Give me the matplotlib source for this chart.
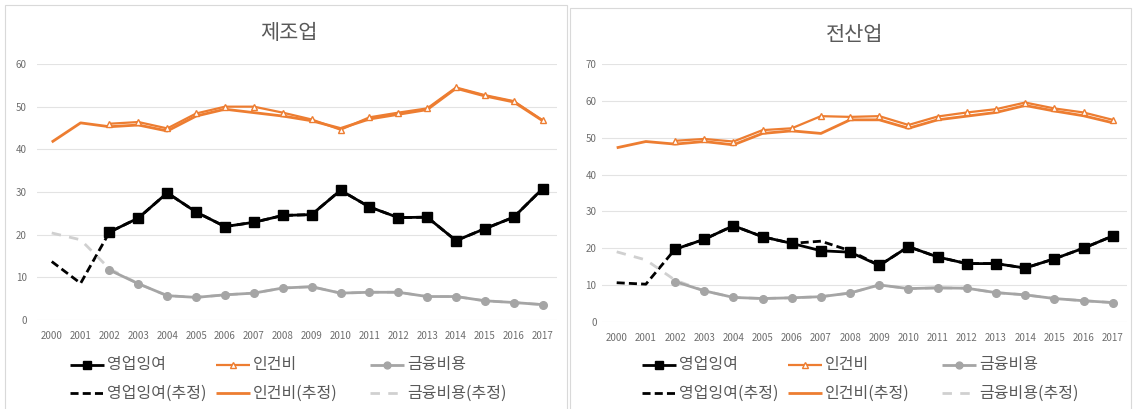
import numpy as np
import matplotlib
matplotlib.use("Agg")
import matplotlib.pyplot as plt
from matplotlib.lines import Line2D
from matplotlib.patches import Rectangle

plt.rcParams['font.family'] = ['Noto Sans CJK KR', 'DejaVu Sans']

nan = np.nan
years = [str(y) for y in range(2000, 2018)]

# 제조업
mfg_surplus = [nan, nan, 20.6, 23.9, 29.8, 25.3, 21.9, 22.9, 24.5, 24.7, 30.4, 26.5, 24.0, 24.1, 18.6, 21.4, 24.1, 30.8]
mfg_surplus_est = [13.7, 8.6, 20.6, 23.9, 29.8, 25.3, 21.9, 22.9, 24.5, 24.7, 30.4, 26.5, 24.0, 24.1, 18.6, 21.4, 24.1, 30.8]
mfg_labor = [nan, nan, 46.0, 46.4, 44.9, 48.4, 50.0, 50.0, 48.6, 47.0, 44.6, 47.5, 48.6, 49.6, 54.5, 52.7, 51.3, 46.8]
mfg_labor_est = [41.7, 46.2, 45.3, 45.7, 44.3, 47.8, 49.4, 48.6, 47.8, 46.7, 44.9, 47.1, 48.2, 49.3, 54.3, 52.5, 51.1, 46.7]
mfg_fin = [nan, nan, 11.7, 8.5, 5.7, 5.3, 5.9, 6.3, 7.5, 7.8, 6.3, 6.5, 6.5, 5.5, 5.5, 4.5, 4.1, 3.6]
mfg_fin_est = [20.4, 18.8, 12.0, 8.5, 5.7, 5.3, 5.9, 6.3, 7.5, 7.8, 6.3, 6.5, 6.5, 5.5, 5.5, 4.5, 4.1, 3.6]

# 전산업
all_surplus = [nan, nan, 19.7, 22.4, 26.1, 23.1, 21.3, 19.3, 18.9, 15.3, 20.4, 17.6, 15.8, 15.8, 14.6, 17.1, 20.0, 23.3]
all_surplus_est = [10.6, 10.2, 19.7, 22.4, 26.1, 23.1, 21.3, 21.9, 19.3, 15.3, 20.4, 17.6, 15.8, 15.8, 14.6, 17.1, 20.0, 23.3]
all_labor = [nan, nan, 49.2, 49.7, 49.0, 52.1, 52.6, 55.9, 55.7, 55.9, 53.5, 55.8, 56.9, 57.8, 59.6, 58.0, 56.9, 54.9]
all_labor_est = [47.3, 49.0, 48.3, 49.0, 48.1, 51.2, 51.9, 51.2, 54.9, 54.9, 52.6, 54.9, 55.9, 56.9, 58.8, 57.3, 56.0, 54.1]
all_fin = [nan, nan, 10.9, 8.4, 6.6, 6.3, 6.5, 6.8, 7.8, 10.0, 9.0, 9.2, 9.1, 7.9, 7.3, 6.3, 5.7, 5.2]
all_fin_est = [19.0, 16.8, 11.3, 8.4, 6.6, 6.3, 6.5, 6.8, 7.8, 10.0, 9.0, 9.2, 9.1, 7.9, 7.3, 6.3, 5.7, 5.2]

titles = ['제조업', '전산업']
legend_labels = ['영업잉여', '인건비', '금융비용', '영업잉여(추정)', '인건비(추정)', '금융비용(추정)']

W, H = 1133, 409
BLACK = '#000000'
ORANGE = '#ED7D31'
GRAY = '#A5A5A5'
LGRAY = '#D0D0D0'
TXT = '#595959'
TICK = '#6E6E6E'

fig = plt.figure(figsize=(W / 100, H / 100), dpi=100)


def fx(x):
    return x / W


def fy(y):
    return 1 - y / H


def styles():
    return [
        dict(color=BLACK, lw=2.0, ls=(0, (2.9, 1.5)), marker=None),            # 영업잉여(추정)
        dict(color=ORANGE, lw=2.0, ls='-', marker=None),                       # 인건비(추정)
        dict(color=LGRAY, lw=2.0, ls=(0, (3.4, 3.0)), marker=None),            # 금융비용(추정)
        dict(color=BLACK, lw=2.0, ls='-', marker='s', ms=6.5, mfc=BLACK, mec=BLACK),
        dict(color=ORANGE, lw=1.6, ls='-', marker='^', ms=5, mfc='white', mec=ORANGE, mew=1.0),
        dict(color=GRAY, lw=2.0, ls='-', marker='o', ms=5.5, mfc=GRAY, mec=GRAY),
    ]


def panel(box, frame, title_xy, title, series, ymax, ypad):
    l, t, r, b = box
    ax = fig.add_axes([fx(l), fy(b), fx(r) - fx(l), fy(t) - fy(b)])
    x = np.arange(len(years))
    st = styles()
    for vals, s in zip(series, st):
        ax.plot(x, vals, solid_capstyle='butt', dash_capstyle='butt', zorder=3, **s)
    ax.set_xlim(-0.5, len(years) - 0.5)
    ax.set_ylim(0, ymax)
    ax.set_yticks(np.arange(0, ymax + 1, 10))
    ax.set_xticks(x)
    ax.set_xticklabels(years)
    ax.grid(axis='y', color='#E3E3E3', lw=0.8, zorder=0)
    for sp in ax.spines.values():
        sp.set_visible(False)
    ax.tick_params(axis='y', length=0, pad=ypad, labelsize=7, labelcolor=TICK)
    ax.tick_params(axis='x', length=0, pad=8, labelsize=7, labelcolor=TICK)
    ax.set_facecolor('none')

    fl, ft, fr, fb = frame
    fig.patches.append(Rectangle((fx(fl), fy(fb)), fx(fr) - fx(fl), fy(ft) - fy(fb),
                                 transform=fig.transFigure, fill=False,
                                 edgecolor='#D9D9D9', lw=0.8))
    fig.text(fx(title_xy[0]), fy(title_xy[1]), title, ha='center', va='center',
             fontsize=15, color=TXT)
    return ax


def legend(cols, rows):
    st = styles()
    order = [3, 4, 5, 0, 1, 2]
    hl = 34
    for i, lab in enumerate(legend_labels):
        c = i % 3
        rr = i // 3
        s = dict(st[order[i]])
        x0 = cols[c]
        y = rows[rr]
        line = Line2D([fx(x0), fx(x0 + hl)], [fy(y), fy(y)], transform=fig.transFigure,
                      color=s['color'], lw=s['lw'], ls=s['ls'],
                      solid_capstyle='butt', dash_capstyle='butt')
        fig.add_artist(line)
        if s.get('marker'):
            mk = Line2D([fx(x0 + hl / 2)], [fy(y)], transform=fig.transFigure,
                        marker=s['marker'], ms=s['ms'] * 0.9, mfc=s['mfc'], mec=s['mec'],
                        mew=s.get('mew', 1.0), ls='none')
            fig.add_artist(mk)
        fig.text(fx(x0 + hl + 3), fy(y), lab, ha='left', va='center',
                 fontsize=11.5, color=TXT)


panel((37.3, 64, 557.1, 320), (5, 5, 567, 412), (289, 33), titles[0],
      [mfg_surplus_est, mfg_labor_est, mfg_fin_est, mfg_surplus, mfg_labor, mfg_fin], 60, 7.5)
panel((602.1, 64.3, 1127.3, 321.7), (570, 8, 1131, 412), (855, 35), titles[1],
      [all_surplus_est, all_labor_est, all_fin_est, all_surplus, all_labor, all_fin], 70, 4)

legend([70, 216, 370], [365, 393])
legend([642, 788, 942], [365, 393])

fig.savefig('out.png', dpi=100, facecolor='white')
